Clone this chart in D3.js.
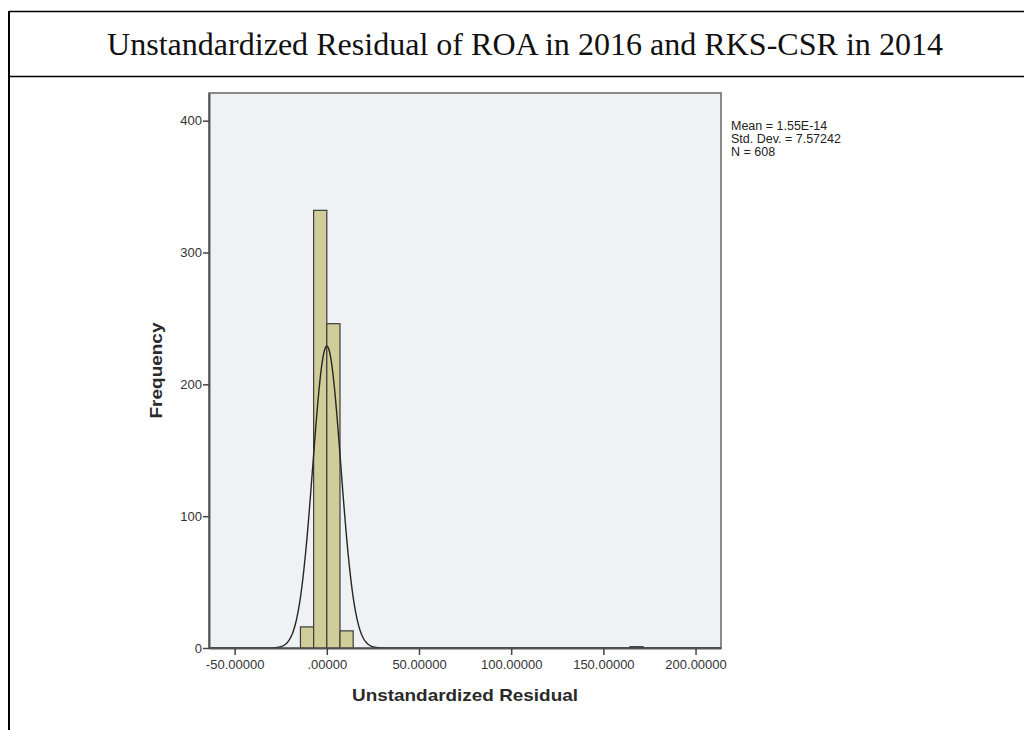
<!DOCTYPE html>
<html lang="en">
<head>
<meta charset="utf-8">
<style>
  body { margin: 0; background: #fff; }
  svg { display: block; }
</style>
</head>
<body>
<div id="viz"></div>
<script src="https://cdn.jsdelivr.net/npm/d3@7/dist/d3.min.js"></script>
<script>

var titleText = "Unstandardized Residual of ROA in 2016 and RKS-CSR in 2014";

// histogram bins (start of each bin) and counts
var binWidth = 7.15;
var binStarts = [-14.3, -7.15, 0, 7.15, 164.45];
var binCounts = [16, 332, 246, 13, 1];

// stats shown in the box at right
var statMean = 1.55e-14, statSd = 7.57242, statN = 608;
var statLines = ["Mean = 1.55E-14", "Std. Dev. = 7.57242", "N = 608"];

var xTicks = [-50, 0, 50, 100, 150, 200];
var xTickLabels = ["-50.00000", ".00000", "50.00000", "100.00000", "150.00000", "200.00000"];
var yTicks = [0, 100, 200, 300, 400];

var W = 1024, H = 730;
var svg = d3.select("#viz").append("svg").attr("width", W).attr("height", H);

// table-ish frame around the figure
svg.append("line").attr("x1", 9).attr("x2", W).attr("y1", 11.5).attr("y2", 11.5)
  .attr("stroke", "#000").attr("stroke-width", 1.5);
svg.append("line").attr("x1", 9).attr("x2", W).attr("y1", 76.5).attr("y2", 76.5)
  .attr("stroke", "#000").attr("stroke-width", 1.5);
svg.append("line").attr("x1", 9).attr("x2", 9).attr("y1", 11).attr("y2", H)
  .attr("stroke", "#000").attr("stroke-width", 2);

svg.append("text")
  .attr("x", 525).attr("y", 55)
  .attr("text-anchor", "middle")
  .attr("font-family", "'Liberation Serif', 'Times New Roman', serif")
  .attr("font-size", 31)
  .attr("textLength", 836)
  .attr("lengthAdjust", "spacingAndGlyphs")
  .attr("fill", "#111")
  .text(titleText);

// plot area
var pLeft = 209, pRight = 721, pTop = 93, pBottom = 648;

var x = d3.scaleLinear().domain([-63.9, 213.8]).range([pLeft, pRight]);
var y = d3.scaleLinear().domain([0, 421]).range([pBottom, pTop]);

svg.append("rect")
  .attr("x", pLeft).attr("y", pTop)
  .attr("width", pRight - pLeft).attr("height", pBottom - pTop)
  .attr("fill", "#f0f1f4")
  .attr("stroke", "#666").attr("stroke-width", 1.5);

// bars
svg.selectAll(".bar")
  .data(binStarts)
  .enter().append("rect")
  .attr("class", "bar")
  .attr("x", (d) => x(d))
  .attr("width", (d) => x(d + binWidth) - x(d))
  .attr("y", (d, i) => y(binCounts[i]))
  .attr("height", (d, i) => y(0) - y(binCounts[i]))
  .attr("fill", "#d0cd98")
  .attr("stroke", "#3c3c3c")
  .attr("stroke-width", 1.2);

// normal curve scaled to counts
var curvePts = d3.range(x.domain()[0], x.domain()[1], 0.25).map(function(v){
  var z = (v - statMean) / statSd;
  return [v, statN * binWidth * Math.exp(-0.5 * z * z) / (statSd * Math.sqrt(2 * Math.PI))];
});
svg.append("path")
  .datum(curvePts)
  .attr("fill", "none")
  .attr("stroke", "#262626")
  .attr("stroke-width", 1.4)
  .attr("d", d3.line().x((d) => x(d[0])).y((d) => y(d[1])));

// axes
var xAxis = svg.append("g")
  .attr("transform", "translate(0," + pBottom + ")")
  .call(d3.axisBottom(x).tickValues(xTicks).tickSize(7).tickSizeOuter(0)
    .tickFormat((d, i) => xTickLabels[i]));
var yAxis = svg.append("g")
  .attr("transform", "translate(" + pLeft + ",0)")
  .call(d3.axisLeft(y).tickValues(yTicks).tickSize(6).tickSizeOuter(0));

[xAxis, yAxis].forEach(function(g){
  g.select(".domain").attr("stroke", "#555").attr("stroke-width", 2);
  g.selectAll(".tick line").attr("stroke", "#444").attr("stroke-width", 1.5);
  g.selectAll(".tick text")
    .attr("font-family", "'Liberation Sans', Arial, sans-serif")
    .attr("font-size", 13)
    .attr("fill", "#333");
});
xAxis.selectAll(".tick text").attr("dy", "0.85em");
yAxis.selectAll(".tick text").attr("x", -7);

svg.append("text")
  .attr("x", (pLeft + pRight) / 2).attr("y", 701)
  .attr("text-anchor", "middle")
  .attr("font-family", "'Liberation Sans', Arial, sans-serif")
  .attr("font-weight", "bold")
  .attr("font-size", 17)
  .attr("textLength", 226)
  .attr("lengthAdjust", "spacingAndGlyphs")
  .attr("fill", "#2a2a2a")
  .text("Unstandardized Residual");

svg.append("text")
  .attr("transform", "translate(162," + ((pTop + pBottom) / 2) + ") rotate(-90)")
  .attr("text-anchor", "middle")
  .attr("font-family", "'Liberation Sans', Arial, sans-serif")
  .attr("font-weight", "bold")
  .attr("font-size", 17)
  .attr("textLength", 96)
  .attr("lengthAdjust", "spacingAndGlyphs")
  .attr("fill", "#2a2a2a")
  .text("Frequency");

svg.selectAll(".stat")
  .data(statLines)
  .enter().append("text")
  .attr("class", "stat")
  .attr("x", 731)
  .attr("y", (d, i) => 130 + i * 13)
  .attr("font-family", "'Liberation Sans', Arial, sans-serif")
  .attr("font-size", 12.5)
  .attr("fill", "#222")
  .text((d) => d);

</script>
</body>
</html>
